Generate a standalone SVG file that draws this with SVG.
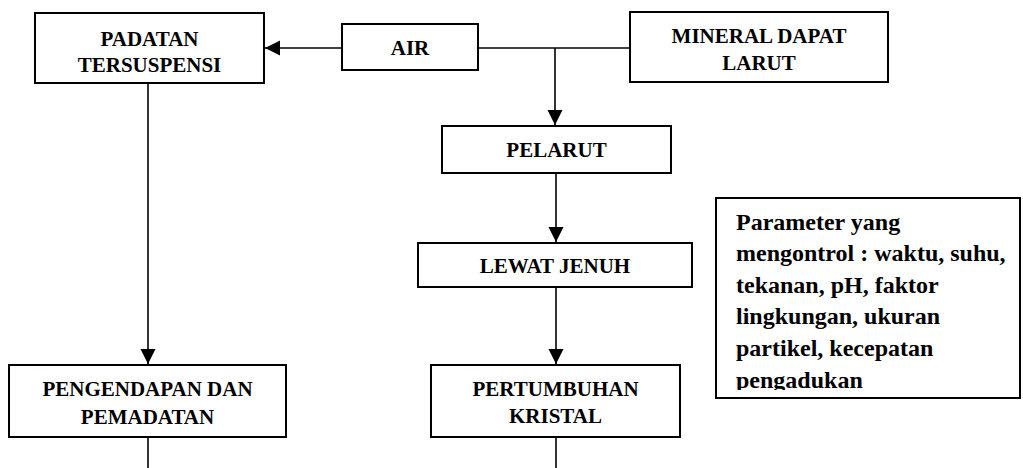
<svg xmlns="http://www.w3.org/2000/svg" width="1023" height="468" viewBox="0 0 1023 468">
<style>
.box{fill:#fff;stroke:#000;stroke-width:2}
.t{font-family:"Liberation Serif","Times New Roman",serif;font-weight:bold;font-size:21px;fill:#000;text-anchor:middle}
.p{font-family:"Liberation Serif","Times New Roman",serif;font-weight:bold;font-size:24px;fill:#000}
.ln{stroke:#000;stroke-width:1.6;fill:none}
</style>
<defs>
<marker id="ah" markerUnits="userSpaceOnUse" markerWidth="16" markerHeight="16" viewBox="0 0 16 16" refX="15" refY="8" orient="auto">
<path d="M0,0.5 L15,8 L0,15.5 Z" fill="#000"/>
</marker>
<clipPath id="pc"><rect x="717" y="199" width="302" height="191"/></clipPath>
</defs>
<g id="connectors">
<line class="ln" x1="630" y1="48" x2="478" y2="48"/>
<line class="ln" x1="342" y1="48" x2="265" y2="48" marker-end="url(#ah)"/>
<line class="ln" x1="555" y1="48" x2="555" y2="125" marker-end="url(#ah)"/>
<line class="ln" x1="556" y1="173" x2="556" y2="242" marker-end="url(#ah)"/>
<line class="ln" x1="556" y1="287" x2="556" y2="364" marker-end="url(#ah)"/>
<line class="ln" x1="148" y1="83" x2="148" y2="364" marker-end="url(#ah)"/>
<line class="ln" x1="148" y1="437" x2="148" y2="468"/>
<line class="ln" x1="556" y1="437" x2="556" y2="468"/>
</g>
<g id="padatan">
<rect class="box" x="35" y="13" width="229" height="70"/>
<text class="t" x="149.5" y="46">PADATAN</text>
<text class="t" x="149.5" y="72">TERSUSPENSI</text>
</g>
<g id="air">
<rect class="box" x="342" y="24" width="136" height="46"/>
<text class="t" x="410" y="55">AIR</text>
</g>
<g id="mineral">
<rect class="box" x="630" y="12" width="258" height="70"/>
<text class="t" x="759" y="43">MINERAL DAPAT</text>
<text class="t" x="759" y="70">LARUT</text>
</g>
<g id="pelarut">
<rect class="box" x="442" y="126" width="229" height="47"/>
<text class="t" x="556.5" y="157">PELARUT</text>
</g>
<g id="lewat">
<rect class="box" x="418" y="243" width="274" height="44"/>
<text class="t" x="555" y="273">LEWAT JENUH</text>
</g>
<g id="pengendapan">
<rect class="box" x="9" y="365" width="277" height="72"/>
<text class="t" x="147.5" y="396">PENGENDAPAN DAN</text>
<text class="t" x="147.5" y="424">PEMADATAN</text>
</g>
<g id="pertumbuhan">
<rect class="box" x="431" y="365" width="249" height="72"/>
<text class="t" x="555.5" y="396">PERTUMBUHAN</text>
<text class="t" x="555.5" y="423">KRISTAL</text>
</g>
<g id="parameter">
<rect class="box" x="716" y="198" width="304" height="200"/>
<g clip-path="url(#pc)">
<text class="p" x="736" y="230">Parameter yang</text>
<text class="p" x="736" y="261">mengontrol : waktu, suhu,</text>
<text class="p" x="736" y="293">tekanan, pH, faktor</text>
<text class="p" x="736" y="324">lingkungan, ukuran</text>
<text class="p" x="736" y="356">partikel, kecepatan</text>
<text class="p" x="736" y="388">pengadukan</text>
</g>
</g>
</svg>
